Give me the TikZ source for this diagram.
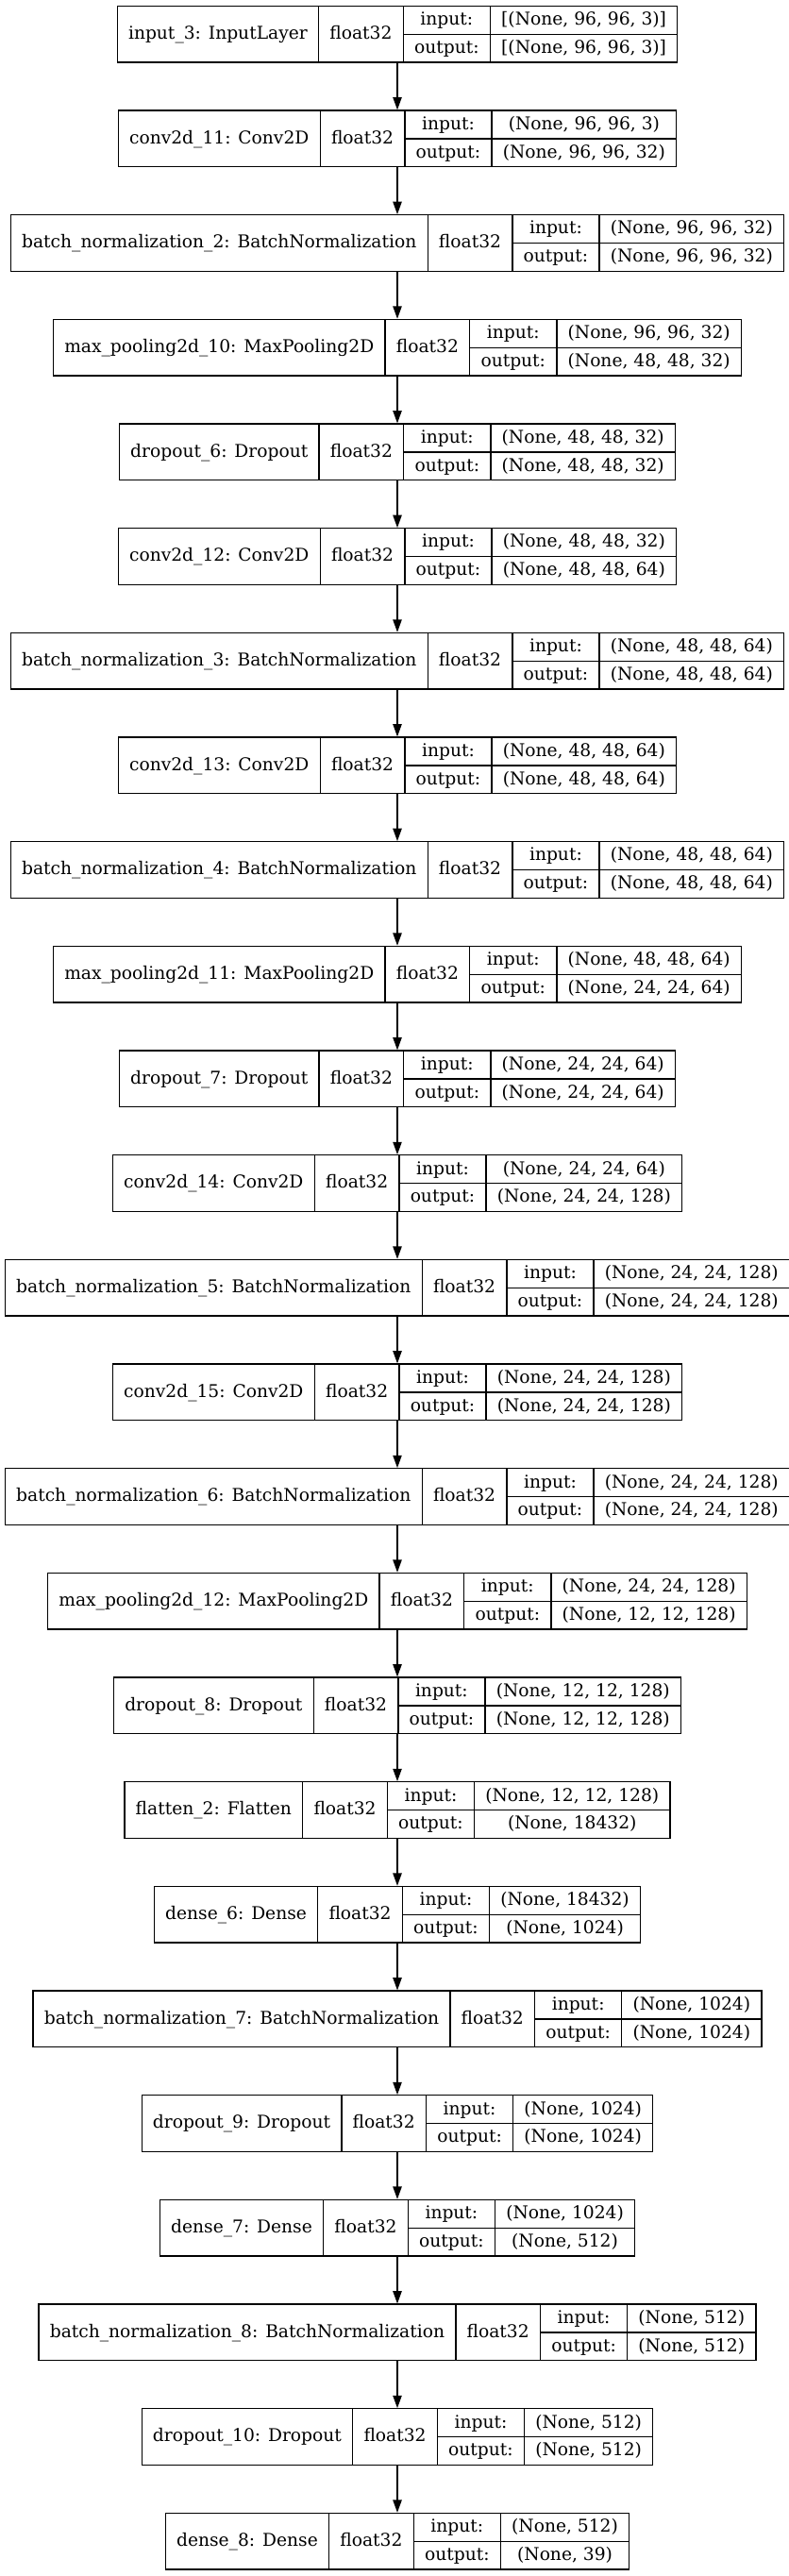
\documentclass[tikz,border=0pt]{standalone}
\usepackage{fontspec}
\setmainfont{DejaVu Serif}
\usetikzlibrary{positioning, arrows.meta, matrix}

\newcommand{\layerfont}{\fontsize{14pt}{22.375pt}\selectfont}

\tikzset{
    cell/.style={draw, line width=1pt, inner xsep=8.85pt, inner ysep=0pt, outer sep=0pt,
        font=\layerfont, anchor=center, minimum height=44.75pt},
    full/.style={cell, text height=11.5pt, text depth=3.5pt},
    pair/.style={cell, align=center, text height=33.875pt, text depth=3.5pt},
    layerrow/.style={column sep=-1pt, inner sep=0pt, outer sep=0pt, ampersand replacement=\&},
    flow/.style={-{Triangle[length=10pt, width=7pt]}, line width=1pt},
}

% one layer: row, name, input shape, output shape
\newcommand{\layer}[4]{%
    \pgfmathsetmacro{\yc}{-(36.2+110.67*(#1-1))*0.75}%
    \matrix[layerrow] (L#1) at (315.75pt, \yc pt) {
        \node[full] (L#1-name) {#2}; \&
        \node[full] (L#1-type) {float32}; \&
        \node[pair] (L#1-io) {input:\\{output:}}; \&
        \node[pair] (L#1-val) {{#3}\\{#4}}; \\
    };
    \draw[line width=1pt] (L#1-io.west) -- (L#1-val.east);
}

\begin{document}
\begin{tikzpicture}
    \useasboundingbox (0,0) rectangle (626.25pt,-2046.75pt);

    % Block 1
    \layer{1}{input\_3: InputLayer}{[(None, 96, 96, 3)]}{[(None, 96, 96, 3)]}
    \layer{2}{conv2d\_11: Conv2D}{(None, 96, 96, 3)}{(None, 96, 96, 32)}
    \layer{3}{batch\_normalization\_2: BatchNormalization}{(None, 96, 96, 32)}{(None, 96, 96, 32)}
    \layer{4}{max\_pooling2d\_10: MaxPooling2D}{(None, 96, 96, 32)}{(None, 48, 48, 32)}
    \layer{5}{dropout\_6: Dropout}{(None, 48, 48, 32)}{(None, 48, 48, 32)}

    % Block 2
    \layer{6}{conv2d\_12: Conv2D}{(None, 48, 48, 32)}{(None, 48, 48, 64)}
    \layer{7}{batch\_normalization\_3: BatchNormalization}{(None, 48, 48, 64)}{(None, 48, 48, 64)}
    \layer{8}{conv2d\_13: Conv2D}{(None, 48, 48, 64)}{(None, 48, 48, 64)}
    \layer{9}{batch\_normalization\_4: BatchNormalization}{(None, 48, 48, 64)}{(None, 48, 48, 64)}
    \layer{10}{max\_pooling2d\_11: MaxPooling2D}{(None, 48, 48, 64)}{(None, 24, 24, 64)}
    \layer{11}{dropout\_7: Dropout}{(None, 24, 24, 64)}{(None, 24, 24, 64)}

    % Block 3
    \layer{12}{conv2d\_14: Conv2D}{(None, 24, 24, 64)}{(None, 24, 24, 128)}
    \layer{13}{batch\_normalization\_5: BatchNormalization}{(None, 24, 24, 128)}{(None, 24, 24, 128)}
    \layer{14}{conv2d\_15: Conv2D}{(None, 24, 24, 128)}{(None, 24, 24, 128)}
    \layer{15}{batch\_normalization\_6: BatchNormalization}{(None, 24, 24, 128)}{(None, 24, 24, 128)}
    \layer{16}{max\_pooling2d\_12: MaxPooling2D}{(None, 24, 24, 128)}{(None, 12, 12, 128)}
    \layer{17}{dropout\_8: Dropout}{(None, 12, 12, 128)}{(None, 12, 12, 128)}

    % Dense head
    \layer{18}{flatten\_2: Flatten}{(None, 12, 12, 128)}{(None, 18432)}
    \layer{19}{dense\_6: Dense}{(None, 18432)}{(None, 1024)}
    \layer{20}{batch\_normalization\_7: BatchNormalization}{(None, 1024)}{(None, 1024)}
    \layer{21}{dropout\_9: Dropout}{(None, 1024)}{(None, 1024)}
    \layer{22}{dense\_7: Dense}{(None, 1024)}{(None, 512)}
    \layer{23}{batch\_normalization\_8: BatchNormalization}{(None, 512)}{(None, 512)}
    \layer{24}{dropout\_10: Dropout}{(None, 512)}{(None, 512)}
    \layer{25}{dense\_8: Dense}{(None, 512)}{(None, 39)}

    % Arrows
    \foreach \i in {1,...,24}{
        \pgfmathtruncatemacro{\j}{\i+1}
        \draw[flow] (L\i.south) -- (L\j.north);
    }
\end{tikzpicture}
\end{document}
